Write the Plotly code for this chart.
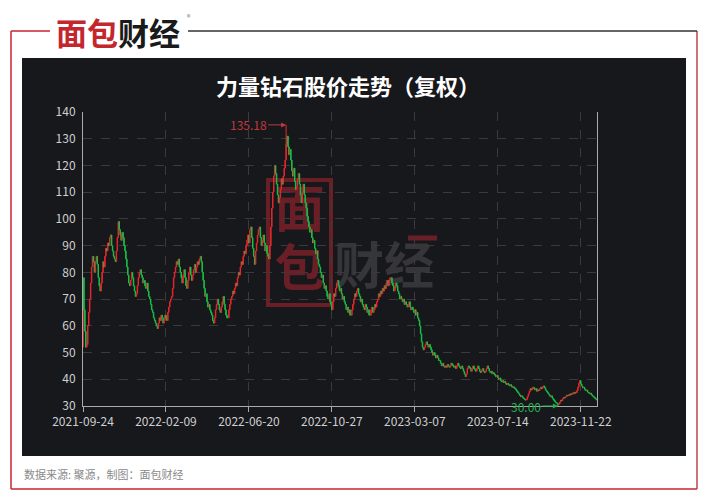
import pandas as pd
import plotly.graph_objects as go

# ---------------- data ----------------
closes = [
    78, 66, 58, 52, 53, 60, 65, 70, 76, 82,
    86, 84, 80, 84, 86, 83, 78, 75, 73, 76,
    80, 84, 82, 86, 89, 88, 91, 90, 93, 94,
    90, 88, 86, 85, 84, 88, 93, 99, 96, 94,
    92, 95, 93, 90, 88, 85, 82, 79, 76, 75,
    77, 80, 78, 75, 73, 71, 72, 75, 78, 80,
    81, 79, 78, 76, 77, 75, 74, 76, 73, 71,
    70, 68, 66, 65, 63, 62, 61, 60, 59, 61,
    63, 62, 64, 63, 61, 62, 64, 63, 62, 65,
    67, 69, 70, 71, 74, 78, 80, 82, 84, 83,
    85, 82, 80, 78, 76, 79, 81, 78, 75, 74,
    77, 80, 82, 79, 77, 79, 81, 83, 80, 82,
    84, 83, 85, 86, 84, 80, 77, 74, 71, 72,
    69, 67, 68, 66, 65, 64, 62, 61, 63, 66,
    68, 70, 68, 66, 65, 67, 69, 71, 68, 66,
    64, 63, 63, 66, 68, 70, 71, 73, 72, 74,
    76, 75, 78, 80, 79, 82, 84, 83, 86, 88,
    87, 90, 92, 94, 91, 96, 97, 93, 89, 86,
    83, 88, 91, 94, 96, 97, 93, 90, 92, 94,
    91, 88, 90, 87, 86, 85, 90, 97, 104, 110,
    116, 120, 117, 113, 109, 106, 108, 111, 115, 113,
    116, 119, 122, 128, 131, 127, 124, 126, 122, 118,
    116, 119, 114, 111, 112, 115, 117, 113, 109, 106,
    110, 113, 109, 106, 104, 101, 99, 97, 95, 96,
    93, 91, 92, 89, 87, 88, 85, 83, 82, 80,
    78, 79, 76, 74, 75, 73, 71, 70, 72, 69,
    68, 66, 69, 72, 71, 74, 76, 77, 75, 73,
    74, 72, 70, 71, 69, 68, 66, 67, 65, 66,
    64, 64, 66, 68, 70, 72, 71, 73, 74, 72,
    71, 69, 70, 68, 67, 66, 68, 67, 65, 66,
    64, 64, 66, 67, 65, 66, 68, 67, 69, 70,
    72, 71, 73, 72, 74, 73, 75, 74, 76, 77,
    75, 77, 78, 78, 76, 75, 73, 74, 76, 75,
    73, 72, 70, 71, 70, 69, 70, 68, 69, 68,
    67, 68, 69, 67, 66, 67, 66, 65, 66, 64,
    65, 63, 62, 60, 57, 54, 52, 51, 52, 53,
    54, 53, 52, 53, 52, 51, 50, 49, 50, 49,
    48, 49, 48, 47, 47, 46, 45, 46, 45, 44.5,
    45, 44.5, 45.5, 45, 44.5, 45, 46, 45.5, 45, 44.5,
    45, 44, 45, 46, 45, 44.5, 44, 45, 44, 43,
    42, 41, 42, 44, 45, 44.5, 44, 43, 44, 45,
    44, 43.5, 43, 44, 45, 44, 43, 42.5, 43.5, 44,
    43, 42.5, 43, 44, 45, 44, 43, 42.5, 43, 42,
    42.5, 42, 41.5, 41, 41.5, 40.5, 40, 40.5, 39.5, 39,
    39.5, 38.8, 39.2, 38.5, 38, 38.5, 38, 37.5, 38, 37.5,
    37, 37.2, 36.8, 36.5, 36, 35.5, 35, 34.5, 34, 33.5,
    33.8, 33.2, 32.8, 32.5, 32.2, 32.5, 33.5, 34.5, 35.5, 36.5,
    36, 36.8, 37, 36.5, 36, 36.5, 35.5, 36, 35.8, 36.5,
    37, 36.5, 37.2, 37.5, 36.8, 36, 35.5, 35, 34.5, 34,
    33.5, 33.8, 33, 32.5, 32, 31.5, 31.2, 31, 30.5, 30.8,
    31.5, 32.2, 32, 32.8, 33.2, 33, 33.5, 34, 33.8, 34.2,
    34, 34.6, 34.3, 34.8, 35, 34.6, 35.2, 35, 35.8, 37,
    38.5, 39.5, 38.2, 37.5, 36.8, 37, 36.2, 35.8, 36, 35.2,
    35, 34.6, 34.8, 34.2, 33.8, 33.5, 33.2, 32.8, 32.5, 32.2,
]
first_open = 52.0
peak_date, peak_high = "2022-08-12", 135.18
trough_date, trough_low = "2023-10-19", 30.00

start_date, end_date = "2021-09-24", "2023-12-15"
market_holidays = [
    "2021-10-01", "2021-10-04", "2021-10-05", "2021-10-06", "2021-10-07",
    "2022-01-03", "2022-01-31", "2022-02-01", "2022-02-02", "2022-02-03", "2022-02-04",
    "2022-04-04", "2022-04-05", "2022-05-02", "2022-05-03", "2022-05-04", "2022-06-03",
    "2022-09-12", "2022-10-03", "2022-10-04", "2022-10-05", "2022-10-06", "2022-10-07",
    "2023-01-02", "2023-01-23", "2023-01-24", "2023-01-25", "2023-01-26", "2023-01-27",
    "2023-04-05", "2023-05-01", "2023-05-02", "2023-05-03", "2023-06-22", "2023-06-23",
    "2023-09-29", "2023-10-02", "2023-10-03", "2023-10-04", "2023-10-05", "2023-10-06",
]
tick_labels = ["2021-09-24", "2022-02-09", "2022-06-20", "2022-10-27",
               "2023-03-07", "2023-07-14", "2023-11-22"]
y_ticks = list(range(30, 141, 10))

title_text = "力量钻石股价走势（复权）"
source_text = "数据来源: 聚源，制图：面包财经"

# ---------------- build OHLC ----------------
hol = set(market_holidays)
dates = [d.strftime("%Y-%m-%d") for d in pd.bdate_range(start_date, end_date)
         if d.strftime("%Y-%m-%d") not in hol]
assert len(dates) == len(closes), (len(dates), len(closes))
opens = [first_open] + closes[:-1]
highs = [max(o, c) for o, c in zip(opens, closes)]
lows = [min(o, c) for o, c in zip(opens, closes)]
i_peak = dates.index(peak_date)
i_trough = dates.index(trough_date)
highs[i_peak] = peak_high
lows[i_trough] = trough_low

# ---------------- layout helpers (page pixels; page has an 8px body margin) ----------------
PAGE_W, PAGE_H = 707, 500
OFF = 8
W, H = PAGE_W - OFF, PAGE_H - OFF
PL, PR, PT, PB = 83, 597, 112, 406   # plot area in page pixels


def fx(px):
    return (px - PL) / (PR - PL)


def fy(py):
    return (PB - py) / (PB - PT)


FONT = "Noto Sans CJK SC, Noto Sans, sans-serif"
BG = "#17181c"
RED = "#c4262e"
UP = "#e8262c"
DOWN = "#18c048"
WM_RED = "#6a1e26"

fig = go.Figure()
fig.add_trace(go.Candlestick(
    x=dates, open=opens, high=highs, low=lows, close=closes,
    increasing=dict(line=dict(color=UP, width=1), fillcolor=UP),
    decreasing=dict(line=dict(color=DOWN, width=1), fillcolor=DOWN),
    whiskerwidth=0, hoverinfo="skip", showlegend=False,
))

shapes = []
# dark panel
shapes.append(dict(type="rect", xref="paper", yref="paper", layer="below",
                   x0=fx(22), x1=fx(686), y0=fy(456), y1=fy(58),
                   fillcolor=BG, line=dict(width=0)))
# outer frame
line_specs = [
    (11, 31, 11, 489, RED), (11, 489, 697, 489, RED), (697, 31, 697, 489, "#b8484c"),
    (11, 31, 50, 31, RED), (188, 31, 697, 31, "#333333"),
]
for x0, y0, x1, y1, col in line_specs:
    shapes.append(dict(type="line", xref="paper", yref="paper",
                       x0=fx(x0), x1=fx(x1), y0=fy(y0), y1=fy(y1),
                       line=dict(color=col, width=1.5)))

# watermark (below data)
shapes.append(dict(type="rect", xref="x domain", yref="y domain", layer="below",
                   x0=fx(268), x1=fx(331), y0=fy(305), y1=fy(180),
                   fillcolor="rgba(0,0,0,0)", line=dict(color=WM_RED, width=4)))
for txt, cx, cy, w, h, size, col in [
    ("面", 299.5, 213, 56, 56, 50, WM_RED),
    ("包", 299.5, 272, 56, 56, 50, WM_RED),
    ("财经", 384, 270, 108, 60, 50, "#35353a"),
]:
    shapes.append(dict(type="rect", xref="x domain", yref="y domain", layer="below",
                       x0=fx(cx - w / 2), x1=fx(cx + w / 2), y0=fy(cy + h / 2), y1=fy(cy - h / 2),
                       fillcolor="rgba(0,0,0,0)", line=dict(width=0),
                       label=dict(text=txt, textposition="middle center",
                                  font=dict(family=FONT, size=size, color=col, weight=700))))
shapes.append(dict(type="line", xref="x domain", yref="y domain", layer="below",
                   x0=fx(408), x1=fx(437), y0=fy(238), y1=fy(238),
                   line=dict(color=WM_RED, width=5)))

annotations = []
# title
annotations.append(dict(xref="paper", yref="paper", x=fx(348), y=fy(85),
                        xanchor="center", yanchor="middle", showarrow=False,
                        text="<b>" + title_text + "</b>",
                        font=dict(family=FONT, size=22, color="#ffffff")))
# logo
annotations.append(dict(xref="paper", yref="paper", x=fx(118), y=fy(32),
                        xanchor="center", yanchor="middle", showarrow=False,
                        text="<b><span style='color:%s'>面包</span><span style='color:#1a1a1a'>财经</span></b>" % RED,
                        font=dict(family=FONT, size=31)))
annotations.append(dict(xref="paper", yref="paper", x=fx(189), y=fy(17),
                        xanchor="center", yanchor="middle", showarrow=False,
                        text="®", font=dict(family=FONT, size=7, color="#666666")))
# source
annotations.append(dict(xref="paper", yref="paper", x=fx(22), y=fy(474),
                        xanchor="left", yanchor="middle", showarrow=False,
                        text=source_text, font=dict(family=FONT, size=11, color="#8a8a8a")))
# max / min markers
annotations.append(dict(x=i_peak, y=peak_high, xref="x", yref="y",
                        text="%.2f" % peak_high, showarrow=True, arrowhead=2, arrowsize=1,
                        arrowwidth=1, arrowcolor="#c0393e", ax=-38, ay=0,
                        font=dict(family=FONT, size=12, color="#c0393e")))
annotations.append(dict(x=i_trough, y=trough_low, xref="x", yref="y",
                        text="%.2f" % trough_low, showarrow=True, arrowhead=2, arrowsize=1,
                        arrowwidth=1, arrowcolor="#22b14c", ax=-32, ay=0,
                        font=dict(family=FONT, size=12, color="#22b14c")))

fig.update_layout(
    width=W, height=H,
    margin=dict(l=PL - OFF, r=PAGE_W - PR, t=PT - OFF, b=PAGE_H - PB, pad=0),
    paper_bgcolor="#ffffff", plot_bgcolor=BG,
    font=dict(family=FONT, size=12, color="#cfcfcf"),
    shapes=shapes, annotations=annotations,
    showlegend=False,
    xaxis=dict(type="category", range=[0, len(dates) - 1], rangeslider=dict(visible=False),
               tickmode="array", tickvals=tick_labels, ticktext=tick_labels,
               ticks="outside", ticklen=5, tickcolor="#aaaaaa",
               showline=True, linecolor="#aaaaaa", linewidth=1,
               showgrid=True, gridcolor="#3a3a3e", griddash="dash", gridwidth=1,
               tickfont=dict(family=FONT, size=12, color="#cfcfcf"), fixedrange=True),
    yaxis=dict(range=[30, 140], tickmode="array", tickvals=y_ticks,
               showline=True, linecolor="#aaaaaa", linewidth=1, mirror=True,
               showgrid=True, gridcolor="#3a3a3e", griddash="dash", gridwidth=1,
               zeroline=False, ticks="", ticklabelstandoff=4,
               tickfont=dict(family=FONT, size=12, color="#cfcfcf"), fixedrange=True),
)

fig.write_html("out.html")
